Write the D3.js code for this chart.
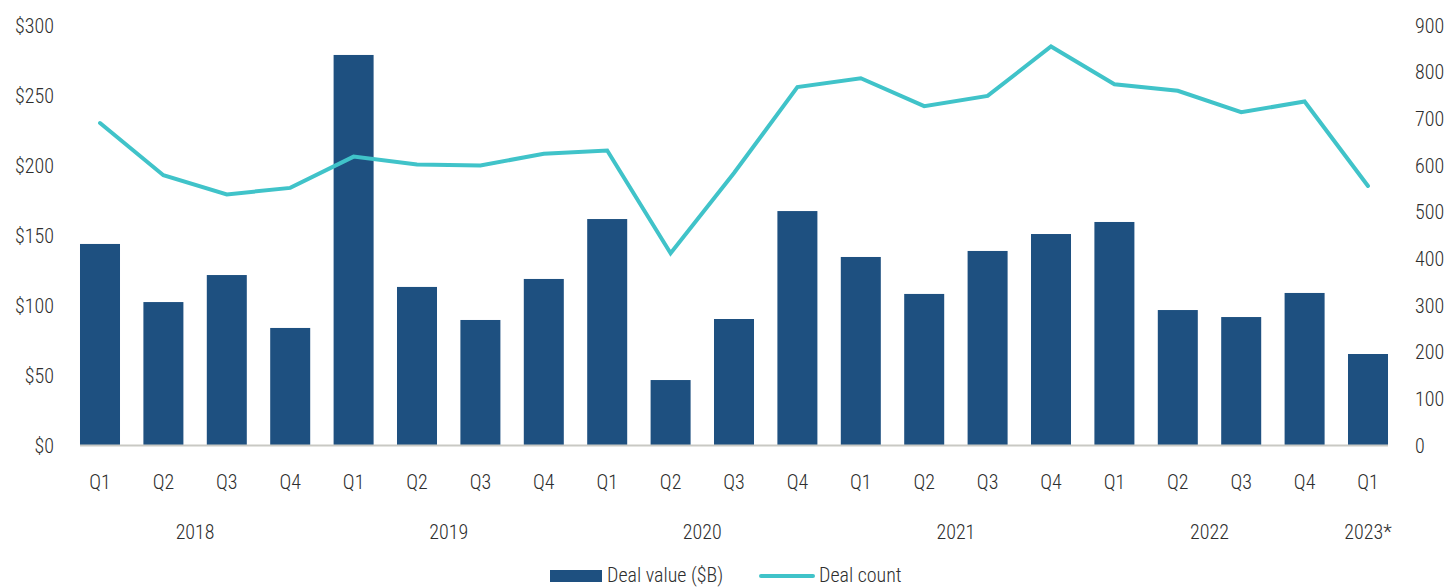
<!DOCTYPE html>
<html><head><meta charset="utf-8">
<script src="https://cdn.jsdelivr.net/npm/d3@7"></script>
<style>
body{margin:0;background:#fff;}
text{font-family:"Roboto Condensed","Liberation Sans Narrow","Noto Sans",sans-serif;font-weight:300;fill:#2e2e2e;}
</style></head>
<body><svg id="c" width="1453" height="587"></svg>
<script>
const quarters = ["Q1","Q2","Q3","Q4","Q1","Q2","Q3","Q4","Q1","Q2","Q3","Q4","Q1","Q2","Q3","Q4","Q1","Q2","Q3","Q4","Q1"];
const years = ["2018","2019","2020","2021","2022","2023*"];
const yearOfQuarter = [0,0,0,0,1,1,1,1,2,2,2,2,3,3,3,3,4,4,4,4,5];
const dealValue = [143.6,102.1,121.4,83.6,278.6,112.9,89.3,118.6,161.4,46.4,90,167.1,134.3,107.9,138.6,150.7,159.3,96.4,91.4,108.6,65];
const dealCount = [690,578,537,551,618,601,599,624,631,411,583,767,786,726,748,854,773,759,713,736,555];
const leftTicks = [0,50,100,150,200,250,300];
const rightTicks = [0,100,200,300,400,500,600,700,800,900];
const seriesNames = ["Deal value ($B)","Deal count"];

const barColor = "#1e5080", lineColor = "#40c3c9";
const svg = d3.select("#c");
const idx = d3.range(quarters.length);
const x = d3.scaleBand().domain(idx).range([68.3,1399.7]).paddingInner(0.369).paddingOuter(0.1845);
const yL = d3.scaleLinear().domain([0,300]).range([445,25]);
const yR = d3.scaleLinear().domain([0,900]).range([445,25]);

// bars
svg.append("g").selectAll("rect").data(dealValue).join("rect")
  .attr("x",(d,i)=>x(i)).attr("width",x.bandwidth())
  .attr("y",d=>yL(d)).attr("height",d=>yL(0)-yL(d)).attr("fill",barColor);

// baseline
svg.append("line").attr("x1",x(0)).attr("x2",x(idx.length-1)+x.bandwidth())
  .attr("y1",yL(0)+0.5).attr("y2",yL(0)+0.5).attr("stroke","#c9c9c4").attr("stroke-width",2);

// line
const line = d3.line().x((d,i)=>x(i)+x.bandwidth()/2).y(d=>yR(d));
svg.append("path").datum(dealCount).attr("d",line).attr("fill","none")
  .attr("stroke",lineColor).attr("stroke-width",4).attr("stroke-linejoin","miter").attr("stroke-linecap","round");

// left axis
const la = svg.append("g").attr("transform","translate(54,0)")
  .call(d3.axisLeft(yL).tickValues(leftTicks).tickSize(0).tickPadding(0).tickFormat(d=>"$"+d));
la.select(".domain").remove();
la.selectAll("text").attr("font-size",20).attr("dy","0.35em");

// right axis
const ra = svg.append("g").attr("transform","translate(1415,0)")
  .call(d3.axisRight(yR).tickValues(rightTicks).tickSize(0).tickPadding(0));
ra.select(".domain").remove();
ra.selectAll("text").attr("font-size",20).attr("dy","0.35em");

// quarter labels
svg.append("g").selectAll("text").data(quarters).join("text")
  .attr("x",(d,i)=>x(i)+x.bandwidth()/2).attr("y",482).attr("dy","0.35em")
  .attr("text-anchor","middle").attr("font-size",20).text(d=>d);

// year labels
svg.append("g").selectAll("text").data(years).join("text")
  .attr("x",(d,yi)=>{const qs=idx.filter(i=>yearOfQuarter[i]===yi);
     return (x(qs[0])+x(qs[qs.length-1]))/2 + x.bandwidth()/2;})
  .attr("y",532).attr("dy","0.35em").attr("text-anchor","middle").attr("font-size",20).text(d=>d);

// legend
const lg = svg.append("g");
lg.append("rect").attr("x",550).attr("y",570).attr("width",52).attr("height",12).attr("fill",barColor);
lg.append("text").attr("x",607).attr("y",575).attr("dy","0.35em").attr("font-size",20).text(seriesNames[0]);
lg.append("line").attr("x1",761).attr("x2",813).attr("y1",576).attr("y2",576)
  .attr("stroke",lineColor).attr("stroke-width",4).attr("stroke-linecap","round");
lg.append("text").attr("x",819).attr("y",575).attr("dy","0.35em").attr("font-size",20).text(seriesNames[1]);
</script></body></html>
